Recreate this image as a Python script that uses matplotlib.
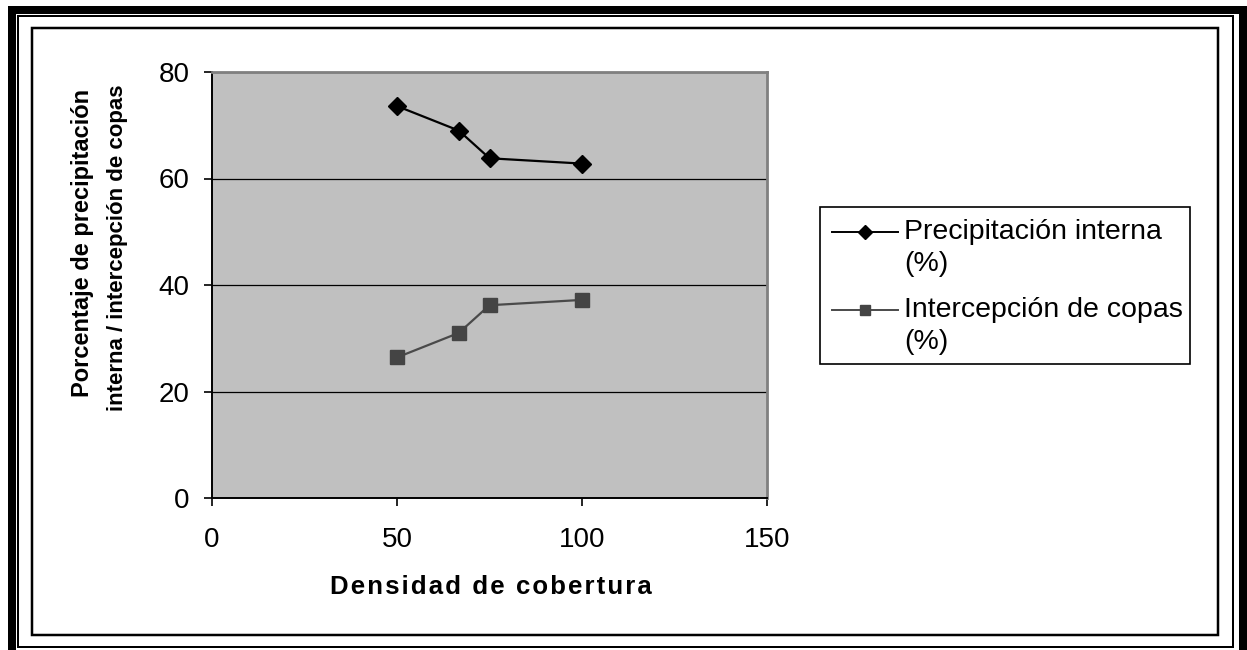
import matplotlib
matplotlib.use("Agg")
import matplotlib.pyplot as plt
from matplotlib.patches import Rectangle
from matplotlib.lines import Line2D
from matplotlib.transforms import IdentityTransform

plt.rcParams['font.family'] = ['Liberation Sans', 'DejaVu Sans']

# data
cobertura = [50, 66.7, 75, 100]
precip_interna = [73.6, 69.0, 63.8, 62.8]
intercepcion = [26.4, 31.0, 36.2, 37.2]
serie_labels = ["Precipitación interna\n(%)", "Intercepción de copas\n(%)"]
x_ticks = [0, 50, 100, 150]
y_ticks = [0, 20, 40, 60, 80]

W, H = 1247, 650
fig = plt.figure(figsize=(W / 100, H / 100), dpi=100)
ax = fig.add_axes([212 / W, 1 - 498 / H, (767 - 212) / W, (498 - 72) / H])
ax.set_facecolor('#c0c0c0')

styles = [
    dict(color='black', marker='D', ms=9.5, mfc='black', mec='black', lw=1.6),
    dict(color='#4a4a4a', marker='s', ms=9.5, mfc='#444444', mec='#444444', lw=1.6),
]
ax.plot(cobertura, precip_interna, zorder=3, **styles[0])
ax.plot(cobertura, intercepcion, zorder=3, **styles[1])

ax.set_xlim(0, 150)
ax.set_ylim(0, 80)
ax.set_xticks(x_ticks)
ax.set_yticks(y_ticks)
ax.yaxis.grid(True, color='black', lw=0.9)
ax.set_axisbelow(True)
ax.tick_params(direction='out', length=6, width=1.2, labelsize=20, colors='black')
ax.tick_params(axis='x', pad=15)
ax.tick_params(axis='y', pad=10)
for s in ['left', 'bottom']:
    ax.spines[s].set_color('black')
    ax.spines[s].set_linewidth(1.4)
for s in ['top', 'right']:
    ax.spines[s].set_color('#808080')
    ax.spines[s].set_linewidth(2)

# the original title is letter-spaced, hair spaces imitate that
xlab = "\u200a".join("Densidad de cobertura")
fig.text(491 / W, 1 - 587 / H, xlab, fontsize=18.5, fontweight='bold',
         ha='center', va='center')
fig.text(83 / W, 1 - 243 / H, "Porcentaje de precipitación", rotation=90,
         fontsize=17, fontweight='bold', ha='center', va='center')
fig.text(118 / W, 1 - 248 / H, "interna / intercepción de copas", rotation=90,
         fontsize=16, fontweight='bold', ha='center', va='center')

# legend drawn by hand so the marker sits on the first text line
tr = IdentityTransform()
fig.add_artist(Rectangle((820, H - 364), 1190 - 820, 364 - 207, fill=False,
                         ec='black', lw=1.2, transform=tr))
leg_ms = [7, 6.5]
for i, (lab, st, ty) in enumerate(zip(serie_labels, styles, [232, 310])):
    fig.add_artist(Line2D([832, 898], [H - ty, H - ty], color=st['color'], lw=1.4,
                          transform=tr))
    fig.add_artist(Line2D([865], [H - ty], marker=st['marker'], ms=leg_ms[i],
                          mfc=st['mfc'], mec=st['mec'], ls='none', transform=tr))
    fig.text(904 / W, 1 - (ty - 13) / H, lab, fontsize=20.5, ha='left', va='top',
             linespacing=1.3)

# page frames
fig.add_artist(Rectangle((12, -6), 1243 - 12, H - 10 + 6, fill=False, ec='black',
                         lw=8 * 0.72, transform=tr))
fig.add_artist(Rectangle((18, H - 647), 1233 - 18, 647 - 15.5, fill=False, ec='black',
                         lw=2 * 0.72, transform=tr))
fig.add_artist(Rectangle((32, H - 635), 1218 - 32, 635 - 28, fill=False, ec='black',
                         lw=2.5 * 0.72, transform=tr))

fig.savefig("out.png", dpi=100)
